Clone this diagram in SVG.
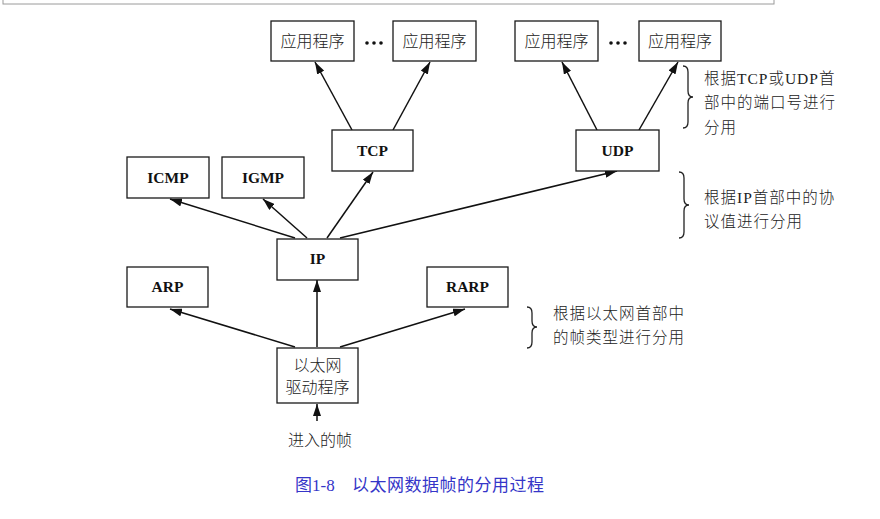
<svg xmlns="http://www.w3.org/2000/svg" width="880" height="519" viewBox="0 0 880 519">
<style>
.box{fill:#fff;stroke:#1a1a1a;stroke-width:1.3}
.lbl{font-family:"Liberation Serif","Times New Roman",serif;font-weight:bold;font-size:15.5px;fill:#111;text-anchor:middle}
.cn{font-family:"Noto Sans CJK SC","Noto Sans",sans-serif;font-size:16px;font-weight:300;fill:#222;text-anchor:middle}
.note{font-family:"Liberation Serif","Noto Sans CJK SC",serif;font-size:15.5px;font-weight:300;fill:#222;letter-spacing:1px}
.edge{stroke:#111;stroke-width:1.5;fill:none;marker-end:url(#ah)}
.brace{stroke:#222;stroke-width:1.3;fill:none}
.cap{font-family:"Liberation Serif","Noto Sans CJK SC",serif;font-size:17px;fill:#3535c8}
</style>
<defs>
<marker id="ah" markerUnits="userSpaceOnUse" markerWidth="12" markerHeight="8" refX="12" refY="4" orient="auto">
<path d="M0,0 L12,4 L0,8 z" fill="#111"/>
</marker>
</defs>
<rect x="3" y="-2" width="771" height="6" fill="none" stroke="#9a9a9a" stroke-width="1"/>
<g id="connectors">
<path class="edge" d="M352,130 L315,62"/>
<path class="edge" d="M393,130 L430,62"/>
<path class="edge" d="M597,130 L562,62"/>
<path class="edge" d="M639,130 L678,62"/>
<path class="edge" d="M295,238 L170,199"/>
<path class="edge" d="M307,238 L263,199"/>
<path class="edge" d="M327,238 L373,172"/>
<path class="edge" d="M340,238 L617,171"/>
<path class="edge" d="M295,347 L170,309"/>
<path class="edge" d="M317,347 L317,280"/>
<path class="edge" d="M340,347 L465,309"/>
<path class="edge" d="M317,421 L317,404"/>
</g>
<g id="app1"><rect class="box" x="271" y="21" width="83" height="40"/><text class="cn" x="312.5" y="47">应用程序</text></g>
<g id="app2"><rect class="box" x="393" y="21" width="83" height="40"/><text class="cn" x="434.5" y="47">应用程序</text></g>
<g id="app3"><rect class="box" x="515" y="21" width="83" height="40"/><text class="cn" x="556.5" y="47">应用程序</text></g>
<g id="app4"><rect class="box" x="639" y="21" width="82" height="40"/><text class="cn" x="680" y="47">应用程序</text></g>
<g id="dots1" fill="#111"><circle cx="367" cy="43" r="1.8"/><circle cx="374" cy="43" r="1.8"/><circle cx="381" cy="43" r="1.8"/></g>
<g id="dots2" fill="#111"><circle cx="611" cy="43" r="1.8"/><circle cx="618" cy="43" r="1.8"/><circle cx="625" cy="43" r="1.8"/></g>
<g id="tcp"><rect class="box" x="332" y="130" width="81" height="41"/><text class="lbl" x="372.5" y="156">TCP</text></g>
<g id="udp"><rect class="box" x="576" y="130" width="83" height="41"/><text class="lbl" x="617.5" y="156">UDP</text></g>
<g id="icmp"><rect class="box" x="127" y="157" width="82" height="41"/><text class="lbl" x="168" y="183">ICMP</text></g>
<g id="igmp"><rect class="box" x="222" y="157" width="82" height="41"/><text class="lbl" x="263" y="183">IGMP</text></g>
<g id="ip"><rect class="box" x="277" y="239" width="81" height="41"/><text class="lbl" x="317.5" y="264">IP</text></g>
<g id="arp"><rect class="box" x="127" y="267" width="81" height="40"/><text class="lbl" x="167.5" y="292">ARP</text></g>
<g id="rarp"><rect class="box" x="427" y="267" width="81" height="40"/><text class="lbl" x="467.5" y="292">RARP</text></g>
<g id="driver"><rect class="box" x="277" y="348" width="81" height="55"/><text class="cn" x="317.5" y="371">以太网</text><text class="cn" x="317.5" y="393">驱动程序</text></g>
<g id="input"><text class="cn" x="320" y="446">进入的帧</text></g>
<g id="note1">
<path class="brace" d="M683,66 Q688,66 688,72 L688,91 Q688,97 693,97 Q688,97 688,103 L688,122 Q688,128 683,128"/>
<text class="note" x="704" y="84">根据TCP或UDP首</text>
<text class="note" x="704" y="108">部中的端口号进行</text>
<text class="note" x="704" y="133">分用</text>
</g>
<g id="note2">
<path class="brace" d="M679,172 Q684,172 684,178 L684,199 Q684,205 689,205 Q684,205 684,211 L684,232 Q684,238 679,238"/>
<text class="note" x="704" y="203">根据IP首部中的协</text>
<text class="note" x="704" y="227">议值进行分用</text>
</g>
<g id="note3">
<path class="brace" d="M527,307 Q532,307 532,313 L532,321 Q532,327 537,327 Q532,327 532,333 L532,342 Q532,348 527,348"/>
<text class="note" x="553" y="319">根据以太网首部中</text>
<text class="note" x="553" y="343">的帧类型进行分用</text>
</g>
<g id="caption">
<text class="cap" x="295" y="491">图1-8</text>
<text class="cap" x="352" y="491" letter-spacing="0.5">以太网数据帧的分用过程</text>
</g>
</svg>
